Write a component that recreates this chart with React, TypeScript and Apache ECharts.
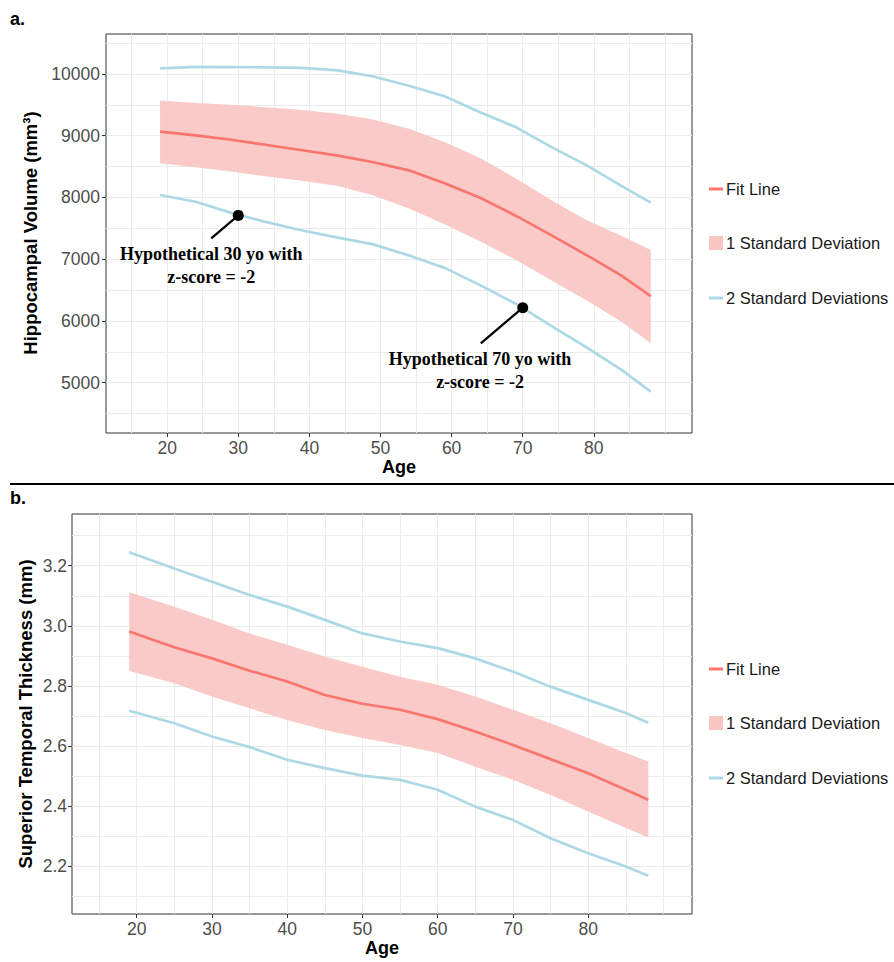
import React, { useEffect, useRef } from "react";
import * as echarts from "echarts";

// ---------- Panel a: Hippocampal Volume ----------
const agesA = [19, 24, 29, 34, 39, 44, 49, 54, 59, 64, 69, 74, 79, 84, 88];
const fitA = [9066, 9005, 8935, 8850, 8765, 8677, 8570, 8440, 8230, 7995, 7705, 7390, 7065, 6725, 6400];
const sd1UpperA = [9570, 9530, 9500, 9460, 9415, 9355, 9265, 9115, 8900, 8640, 8310, 7960, 7630, 7370, 7150];
const sd1LowerA = [8554, 8490, 8420, 8340, 8270, 8185, 8030, 7820, 7565, 7290, 6990, 6660, 6330, 5980, 5640];
const sd2UpperA = [10092, 10115, 10112, 10108, 10100, 10060, 9960, 9810, 9640, 9380, 9140, 8820, 8520, 8180, 7916];
const sd2LowerA = [8040, 7930, 7750, 7600, 7465, 7350, 7240, 7060, 6860, 6580, 6280, 5920, 5570, 5200, 4854];

// hypothetical subjects (age, volume), arrow ends and note anchors
const pointsA = [[30, 7710], [70, 6215]];
const arrowEndsA = [[26.2, 7338], [64.1, 5636]];
const noteAnchorsA = [[26.2, 6899], [64.0, 5190]];
const noteTexts = ["Hypothetical 30 yo with\nz-score = -2", "Hypothetical 70 yo with\nz-score = -2"];

const yTicksA = [5000, 6000, 7000, 8000, 9000, 10000];
const yGridA = [4500, 5000, 5500, 6000, 6500, 7000, 7500, 8000, 8500, 9000, 9500, 10000, 10500];

// ---------- Panel b: Superior Temporal Thickness ----------
const agesB = [19, 25, 30, 35, 40, 45, 50, 55, 60, 65, 70, 75, 80, 85, 88];
const fitB = [2.981, 2.929, 2.892, 2.851, 2.815, 2.77, 2.741, 2.721, 2.69, 2.649, 2.604, 2.557, 2.51, 2.455, 2.422];
const sd1UpperB = [3.112, 3.064, 3.02, 2.975, 2.937, 2.898, 2.864, 2.831, 2.804, 2.765, 2.721, 2.676, 2.627, 2.577, 2.549];
const sd1LowerB = [2.85, 2.809, 2.765, 2.726, 2.687, 2.654, 2.627, 2.604, 2.577, 2.532, 2.488, 2.438, 2.383, 2.328, 2.296];
const sd2UpperB = [3.245, 3.191, 3.147, 3.103, 3.064, 3.02, 2.975, 2.948, 2.926, 2.892, 2.848, 2.798, 2.754, 2.71, 2.678];
const sd2LowerB = [2.718, 2.676, 2.632, 2.597, 2.555, 2.527, 2.502, 2.488, 2.455, 2.399, 2.355, 2.294, 2.244, 2.2, 2.169];

const yTicksB = [2.2, 2.4, 2.6, 2.8, 3.0, 3.2];
const yGridB = [2.1, 2.2, 2.3, 2.4, 2.5, 2.6, 2.7, 2.8, 2.9, 3.0, 3.1, 3.2, 3.3];

// shared x axis
const xTicks = [20, 30, 40, 50, 60, 70, 80];
const xGrid = [15, 20, 25, 30, 35, 40, 45, 50, 55, 60, 65, 70, 75, 80, 85, 90];

const RED = "#F8766D";
const PINK = "#F9C5C2";
const BLUE = "#ADD8E6";
const GRIDC = "#EBEBEB";
const SANS = "Liberation Sans, Arial, sans-serif";
const SERIF = "Liberation Serif, Times New Roman, serif";

const pairs = (xs: number[], ys: number[]) => xs.map((x, i) => [x, ys[i]]);

function panelSeries(idx: number, ages: number[], fit: number[], u1: number[], l1: number[], u2: number[], l2: number[], yGrid: number[]) {
  const ax = { xAxisIndex: idx, yAxisIndex: idx };
  return [
    {
      name: "grid" + idx,
      type: "line",
      ...ax,
      data: pairs(ages, fit),
      symbol: "none",
      lineStyle: { opacity: 0 },
      silent: true,
      z: 1,
      markLine: {
        silent: true,
        symbol: ["none", "none"],
        z: 1,
        label: { show: false },
        lineStyle: { color: GRIDC, width: 1, type: "solid" },
        emphasis: { disabled: true },
        data: [...xGrid.map((v) => ({ xAxis: v })), ...yGrid.map((v) => ({ yAxis: v }))],
      },
    },
    {
      name: "1 Standard Deviation",
      type: "custom",
      ...ax,
      data: ages.map((a, i) => [a, u1[i], l1[i]]),
      itemStyle: { color: PINK },
      silent: true,
      z: 2,
      renderItem: (params: any, api: any) => {
        if (params.dataIndex !== 0) return null;
        const top = ages.map((a, i) => api.coord([a, u1[i]]));
        const bottom = ages.map((a, i) => api.coord([a, l1[i]])).reverse();
        return {
          type: "polygon",
          shape: { points: [...top, ...bottom], smooth: 0 },
          style: { fill: PINK, opacity: 0.92 },
        };
      },
    },
    {
      name: "2 Standard Deviations",
      type: "line",
      ...ax,
      data: pairs(ages, u2),
      symbol: "none",
      itemStyle: { color: BLUE },
      lineStyle: { color: BLUE, width: 2.7 },
      silent: true,
      z: 3,
    },
    {
      name: "2 Standard Deviations",
      type: "line",
      ...ax,
      data: pairs(ages, l2),
      symbol: "none",
      itemStyle: { color: BLUE },
      lineStyle: { color: BLUE, width: 2.7 },
      silent: true,
      z: 3,
    },
    {
      name: "Fit Line",
      type: "line",
      ...ax,
      data: pairs(ages, fit),
      symbol: "none",
      itemStyle: { color: RED },
      lineStyle: { color: RED, width: 2.7 },
      silent: true,
      z: 4,
    },
  ];
}

export default function App() {
  const ref = useRef<HTMLDivElement>(null);
  useEffect(() => {
    document.body.style.margin = "0";
    if (!ref.current) return;
    const chart = echarts.init(ref.current, undefined, { renderer: "svg" });

    const axisLabelStyle = { color: "#4D4D4D", fontSize: 17.5, fontFamily: SANS };
    const xAxisCommon = (gi: number) => ({
      type: "value",
      gridIndex: gi,
      min: 11.4,
      max: 93.8,
      splitLine: { show: false },
      axisLine: { show: false },
      axisTick: { show: true, length: 4, lineStyle: { color: "#333" }, customValues: xTicks },
      axisLabel: { ...axisLabelStyle, margin: 6, customValues: xTicks, formatter: (v: number) => String(v) },
    });

    const legendItem = (name: string, centerY: number, h: number) => ({
      orient: "vertical",
      left: 709,
      top: centerY - 9,
      padding: 0,
      itemWidth: 14,
      itemHeight: h,
      selectedMode: false,
      icon: "rect",
      textStyle: { fontSize: 16.5, fontFamily: SANS, color: "#1A1A1A", lineHeight: 18, padding: [0, 0, 0, -2] },
      data: [{ name, icon: "rect" }],
    });

    const annotSeries: any[] = [];
    pointsA.forEach((p, i) => {
      annotSeries.push({
        name: "arrow" + i,
        type: "line",
        xAxisIndex: 0,
        yAxisIndex: 0,
        data: [p, arrowEndsA[i]],
        symbol: "none",
        lineStyle: { color: "#000", width: 2.2 },
        silent: true,
        z: 6,
      });
    });
    annotSeries.push({
      name: "subjects",
      type: "scatter",
      xAxisIndex: 0,
      yAxisIndex: 0,
      data: pointsA,
      symbol: "circle",
      symbolSize: 11,
      itemStyle: { color: "#000", opacity: 1 },
      silent: true,
      z: 7,
    });
    annotSeries.push({
      name: "notes",
      type: "custom",
      xAxisIndex: 0,
      yAxisIndex: 0,
      data: noteAnchorsA,
      silent: true,
      z: 7,
      renderItem: (params: any, api: any) => {
        const pt = api.coord([api.value(0), api.value(1)]);
        return {
          type: "text",
          x: pt[0],
          y: pt[1],
          style: {
            text: noteTexts[params.dataIndex],
            fill: "#000",
            font: `bold 18px ${SERIF}`,
            lineHeight: 23,
            align: "center",
            verticalAlign: "middle",
          },
        };
      },
    });

    const titleFont = `bold 18.5px ${SANS}`;
    const option: any = {
      animation: false,
      backgroundColor: "#fff",
      grid: [
        { left: 106, top: 34, width: 586, height: 399, show: true, borderColor: "#333", borderWidth: 1, backgroundColor: "#fff", containLabel: false },
        { left: 72, top: 514, width: 620, height: 400, show: true, borderColor: "#333", borderWidth: 1, backgroundColor: "#fff", containLabel: false },
      ],
      xAxis: [xAxisCommon(0), xAxisCommon(1)],
      yAxis: [
        {
          type: "value",
          gridIndex: 0,
          min: 4185,
          max: 10648,
          splitLine: { show: false },
          axisLine: { show: false },
          axisTick: { show: true, length: 4, lineStyle: { color: "#333" }, customValues: yTicksA },
          axisLabel: { ...axisLabelStyle, margin: 6, customValues: yTicksA, formatter: (v: number) => String(v) },
        },
        {
          type: "value",
          gridIndex: 1,
          min: 2.042,
          max: 3.372,
          splitLine: { show: false },
          axisLine: { show: false },
          axisTick: { show: true, length: 4, lineStyle: { color: "#333" }, customValues: yTicksB },
          axisLabel: { ...axisLabelStyle, margin: 5, customValues: yTicksB, formatter: (v: number) => v.toFixed(1) },
        },
      ],
      legend: [
        legendItem("Fit Line", 189, 3),
        legendItem("1 Standard Deviation", 243, 14),
        legendItem("2 Standard Deviations", 298, 3),
        legendItem("Fit Line", 669, 3),
        legendItem("1 Standard Deviation", 723, 14),
        legendItem("2 Standard Deviations", 778, 3),
      ],
      series: [
        ...panelSeries(0, agesA, fitA, sd1UpperA, sd1LowerA, sd2UpperA, sd2LowerA, yGridA),
        ...panelSeries(1, agesB, fitB, sd1UpperB, sd1LowerB, sd2UpperB, sd2LowerB, yGridB),
        ...annotSeries,
      ],
      graphic: [
        { type: "text", left: 10, top: 10, style: { text: "a.", font: `bold 18px ${SANS}`, fill: "#000" } },
        { type: "text", left: 10, top: 489, style: { text: "b.", font: `bold 18px ${SANS}`, fill: "#000" } },
        { type: "line", shape: { x1: 10, y1: 484, x2: 894, y2: 484 }, style: { stroke: "#000", lineWidth: 2 } },
        {
          type: "text",
          x: 30,
          y: 233,
          rotation: Math.PI / 2,
          style: { text: "Hippocampal Volume (mm³)", font: titleFont, fill: "#000", align: "center", verticalAlign: "middle" },
        },
        {
          type: "text",
          x: 25,
          y: 714,
          rotation: Math.PI / 2,
          style: { text: "Superior Temporal Thickness (mm)", font: titleFont, fill: "#000", align: "center", verticalAlign: "middle" },
        },
        { type: "text", x: 399, y: 467, style: { text: "Age", font: `bold 18px ${SANS}`, fill: "#000", align: "center", verticalAlign: "middle" } },
        { type: "text", x: 382, y: 948, style: { text: "Age", font: `bold 18px ${SANS}`, fill: "#000", align: "center", verticalAlign: "middle" } },
      ],
    };
    chart.setOption(option);
    return () => chart.dispose();
  }, []);
  return <div ref={ref} style={{ width: 894, height: 962 }} />;
}
